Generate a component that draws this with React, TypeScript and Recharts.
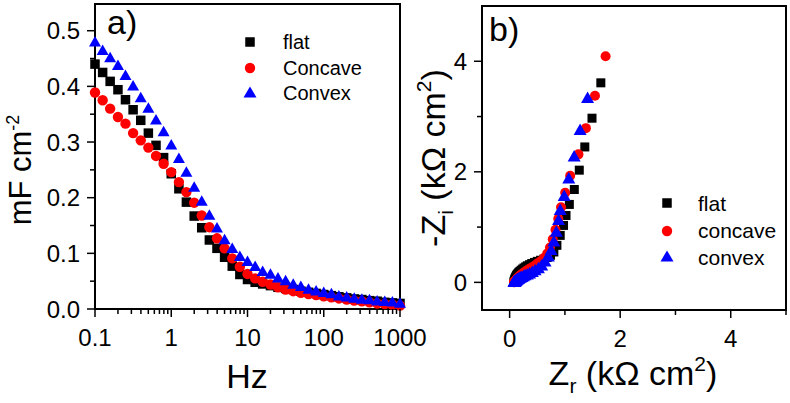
import React from "react";
import {
  ScatterChart,
  Scatter,
  XAxis,
  YAxis,
  ReferenceArea,
} from "recharts";

// panel a: capacitance vs frequency
const freqHz = [
  0.1, 0.126, 0.158, 0.2, 0.251, 0.316, 0.398, 0.501, 0.631, 0.794, 1, 1.26,
  1.58, 2, 2.51, 3.16, 3.98, 5.01, 6.31, 7.94, 10, 12.6, 15.8, 20, 25.1, 31.6,
  39.8, 50.1, 63.1, 79.4, 100, 126, 158, 200, 251, 316, 398, 501, 631, 794,
  1000,
];
const flatCap = [
  0.44, 0.425, 0.409, 0.394, 0.376, 0.358, 0.339, 0.316, 0.294, 0.272, 0.243,
  0.216, 0.192, 0.167, 0.146, 0.124, 0.109, 0.093, 0.077, 0.062, 0.053, 0.048,
  0.045, 0.042, 0.039, 0.037, 0.035, 0.032, 0.03, 0.028, 0.026, 0.024, 0.022,
  0.02, 0.018, 0.017, 0.015, 0.014, 0.012, 0.011, 0.01,
];
const concaveCap = [
  0.389, 0.375, 0.36, 0.345, 0.333, 0.316, 0.303, 0.29, 0.275, 0.261, 0.246,
  0.228, 0.21, 0.191, 0.168, 0.147, 0.127, 0.109, 0.091, 0.076, 0.063, 0.055,
  0.049, 0.044, 0.039, 0.035, 0.032, 0.029, 0.027, 0.025, 0.023, 0.021, 0.019,
  0.017, 0.015, 0.014, 0.012, 0.01, 0.009, 0.008, 0.006,
];
const convexCap = [
  0.479, 0.464, 0.451, 0.437, 0.419, 0.4, 0.379, 0.36, 0.339, 0.318, 0.294,
  0.27, 0.245, 0.218, 0.193, 0.168, 0.145, 0.124, 0.108, 0.094, 0.085, 0.076,
  0.067, 0.062, 0.055, 0.05, 0.044, 0.04, 0.035, 0.032, 0.029, 0.027, 0.023,
  0.021, 0.019, 0.017, 0.016, 0.014, 0.013, 0.012, 0.01,
];

// panel b: Nyquist, from 0.1 Hz (top) down to 1000 Hz (origin)
const flatZr = [
  1.65, 1.49, 1.36, 1.26, 1.17, 1.08, 1.02, 0.975, 0.915, 0.855, 0.8, 0.74,
  0.68, 0.62, 0.56, 0.5, 0.45, 0.4, 0.36, 0.32, 0.29, 0.26, 0.235, 0.21, 0.19,
  0.175, 0.16, 0.148, 0.137, 0.128, 0.12, 0.113, 0.107, 0.102, 0.097, 0.093,
  0.09, 0.087, 0.085, 0.083, 0.08,
];
const flatZi = [
  3.61, 2.97, 2.45, 2.03, 1.68, 1.41, 1.21, 1.03, 0.85, 0.67, 0.55, 0.49, 0.45,
  0.42, 0.4, 0.38, 0.36, 0.34, 0.32, 0.3, 0.28, 0.26, 0.24, 0.22, 0.2, 0.185,
  0.17, 0.155, 0.14, 0.125, 0.11, 0.095, 0.082, 0.07, 0.058, 0.047, 0.037,
  0.028, 0.02, 0.012, 0.005,
];
const concaveZr = [
  1.736, 1.544, 1.38, 1.245, 1.095, 1.005, 0.93, 0.88, 0.83, 0.78, 0.73, 0.68,
  0.62, 0.56, 0.5, 0.45, 0.4, 0.36, 0.32, 0.29, 0.26, 0.235, 0.21, 0.19, 0.175,
  0.16, 0.148, 0.137, 0.128, 0.12, 0.113, 0.107, 0.102, 0.097, 0.093, 0.09,
  0.087, 0.085, 0.083, 0.081, 0.08,
];
const concaveZi = [
  4.09, 3.375, 2.79, 2.316, 1.93, 1.62, 1.36, 1.15, 0.95, 0.78, 0.63, 0.52,
  0.44, 0.38, 0.34, 0.3, 0.27, 0.245, 0.22, 0.2, 0.18, 0.16, 0.14, 0.125, 0.11,
  0.095, 0.082, 0.07, 0.06, 0.05, 0.042, 0.035, 0.028, 0.022, 0.017, 0.013,
  0.01, 0.007, 0.005, 0.003, 0.001,
];
const convexZr = [
  1.41, 1.275, 1.167, 1.07, 0.987, 0.916, 0.885, 0.844, 0.8, 0.75, 0.7, 0.64,
  0.58, 0.52, 0.46, 0.41, 0.36, 0.32, 0.28, 0.25, 0.22, 0.2, 0.18, 0.165, 0.15,
  0.14, 0.13, 0.122, 0.115, 0.11, 0.105, 0.1, 0.097, 0.094, 0.091, 0.089,
  0.087, 0.085, 0.083, 0.082, 0.08,
];
const convexZi = [
  3.33, 2.75, 2.27, 1.87, 1.556, 1.3, 1.12, 0.91, 0.73, 0.58, 0.46, 0.37, 0.3,
  0.25, 0.21, 0.18, 0.155, 0.135, 0.12, 0.105, 0.092, 0.08, 0.07, 0.06, 0.052,
  0.045, 0.038, 0.032, 0.027, 0.022, 0.018, 0.015, 0.012, 0.01, 0.008, 0.006,
  0.005, 0.004, 0.003, 0.002, 0.001,
];

const xTicksA = [
  0.1, 0.2, 0.3, 0.4, 0.5, 0.6, 0.7, 0.8, 0.9, 1, 2, 3, 4, 5, 6, 7, 8, 9, 10,
  20, 30, 40, 50, 60, 70, 80, 90, 100, 200, 300, 400, 500, 600, 700, 800, 900,
  1000,
];
const xMajorA = [0.1, 1, 10, 100, 1000];
const yTicksA = [0, 0.05, 0.1, 0.15, 0.2, 0.25, 0.3, 0.35, 0.4, 0.45, 0.5];
const yMajorA = [0, 0.1, 0.2, 0.3, 0.4, 0.5];
const ticksB = [0, 1, 2, 3, 4, 5];
const majorB = [0, 2, 4];

const FONT = "'Liberation Sans', Arial, sans-serif";
const AXIS = { stroke: "#000", strokeWidth: 2 };

const capData = (vals: number[]) => freqHz.map((f, i) => ({ x: f, y: vals[i] }));
const nyqData = (zr: number[], zi: number[]) =>
  zr.map((r, i) => ({ x: r, y: zi[i] }));

const Square = ({ cx, cy, s = 9.5 }: any) => (
  <rect x={cx - s / 2} y={cy - s / 2} width={s} height={s} fill="#000" />
);
const Dot = ({ cx, cy, r = 5.2 }: any) => (
  <circle cx={cx} cy={cy} r={r} fill="#ff0000" />
);
const Tri = ({ cx, cy, w = 12, h = 10.5 }: any) => (
  <polygon
    points={`${cx},${cy - h * 0.6} ${cx - w / 2},${cy + h * 0.4} ${cx + w / 2},${cy + h * 0.4}`}
    fill="#0000ff"
  />
);

const XTick = ({ x, y, payload, majors }: any) => {
  const v = payload.value;
  const major = majors.some((m: number) => Math.abs(m - v) < 1e-9);
  return (
    <g>
      <line x1={x} x2={x} y1={y} y2={y + (major ? 8 : 5)} stroke="#000" strokeWidth={1.5} />
      {major && (
        <text x={x} y={y + 37} textAnchor="middle" fontSize={24} fontFamily={FONT} fill="#000">
          {String(v)}
        </text>
      )}
    </g>
  );
};

const YTick = ({ x, y, payload, majors, fmt }: any) => {
  const v = payload.value;
  const major = majors.some((m: number) => Math.abs(m - v) < 1e-9);
  return (
    <g>
      <line x1={x} x2={x - (major ? 8 : 5)} y1={y} y2={y} stroke="#000" strokeWidth={1.5} />
      {major && (
        <text x={x - 15} y={y + 8.5} textAnchor="end" fontSize={24} fontFamily={FONT} fill="#000">
          {fmt(v)}
        </text>
      )}
    </g>
  );
};

const LegendMark = ({ x, y, marker }: any) => (
  <g>
    {marker === "square" && <Square cx={x} cy={y} />}
    {marker === "circle" && <Dot cx={x} cy={y} />}
    {marker === "tri" && <Tri cx={x} cy={y} w={13} h={11} />}
  </g>
);

const PanelA = () => (
  <ScatterChart width={440} height={403} margin={{ top: 4, right: 40, left: 35, bottom: 44 }}>
    <ReferenceArea x1={0.1} x2={1000} y1={0} y2={0.548} fill="none" fillOpacity={0} stroke="#000" strokeWidth={2} />
    <XAxis
      type="number"
      dataKey="x"
      scale="log"
      domain={[0.1, 1000]}
      ticks={xTicksA}
      interval={0}
      height={50}
      axisLine={AXIS}
      tickLine={false}
      tickSize={0}
      tickMargin={0}
      tick={<XTick majors={xMajorA} />}
    />
    <YAxis
      type="number"
      dataKey="y"
      domain={[0, 0.548]}
      ticks={yTicksA}
      interval={0}
      width={60}
      axisLine={AXIS}
      tickLine={false}
      tickSize={0}
      tickMargin={0}
      tick={<YTick majors={yMajorA} fmt={(v: number) => v.toFixed(1)} />}
    />
    <Scatter name="flat" data={capData(flatCap)} shape={<Square />} isAnimationActive={false} />
    <Scatter name="Concave" data={capData(concaveCap)} shape={<Dot />} isAnimationActive={false} />
    <Scatter name="Convex" data={capData(convexCap)} shape={<Tri />} isAnimationActive={false} />
  </ScatterChart>
);

const PanelB = () => (
  <ScatterChart width={390} height={403} margin={{ top: 6, right: 4, left: 42, bottom: 43 }}>
    <ReferenceArea x1={-0.5} x2={5} y1={-0.5} y2={5} fill="none" fillOpacity={0} stroke="#000" strokeWidth={2} />
    <XAxis
      type="number"
      dataKey="x"
      domain={[-0.5, 5]}
      ticks={ticksB}
      interval={0}
      height={50}
      axisLine={AXIS}
      tickLine={false}
      tickSize={0}
      tickMargin={0}
      tick={<XTick majors={majorB} />}
    />
    <YAxis
      type="number"
      dataKey="y"
      domain={[-0.5, 5]}
      ticks={ticksB.slice(0, 5)}
      interval={0}
      width={40}
      axisLine={AXIS}
      tickLine={false}
      tickSize={0}
      tickMargin={0}
      tick={<YTick majors={majorB} fmt={(v: number) => String(v)} />}
    />
    <Scatter name="flat" data={nyqData(flatZr, flatZi)} shape={<Square s={9} />} isAnimationActive={false} />
    <Scatter name="concave" data={nyqData(concaveZr, concaveZi)} shape={<Dot r={5} />} isAnimationActive={false} />
    <Scatter name="convex" data={nyqData(convexZr, convexZi)} shape={<Tri w={13} h={11.5} />} isAnimationActive={false} />
  </ScatterChart>
);

const Overlay = () => (
  <svg
    width={790}
    height={403}
    style={{ position: "absolute", left: 0, top: 0, pointerEvents: "none" }}
    fontFamily={FONT}
    fill="#000"
  >
    <text x={107} y={34} fontSize={34}>a)</text>
    <text x={489} y={41} fontSize={34}>b)</text>

    <text x={247} y={388} fontSize={34} textAnchor="middle">Hz</text>
    <text x={633} y={385} fontSize={34} textAnchor="middle">
      Z<tspan fontSize={21} dy={8}>r</tspan>
      <tspan dy={-8}> (kΩ cm</tspan>
      <tspan fontSize={21} dy={-14}>2</tspan>
      <tspan dy={14}>)</tspan>
    </text>

    <text transform="translate(31,170) rotate(-90)" fontSize={31} textAnchor="middle">
      mF cm<tspan fontSize={18} dy={-12}>-2</tspan>
    </text>
    <text transform="translate(445,158) rotate(-90)" fontSize={34} textAnchor="middle">
      -Z<tspan fontSize={21} dy={8}>i</tspan>
      <tspan dy={-8}> (kΩ cm</tspan>
      <tspan fontSize={21} dy={-14}>2</tspan>
      <tspan dy={14}>)</tspan>
    </text>

    <LegendMark x={250} y={42} marker="square" />
    <LegendMark x={250} y={68} marker="circle" />
    <LegendMark x={250} y={93} marker="tri" />
    <text x={283} y={49} fontSize={20}>flat</text>
    <text x={283} y={75} fontSize={20}>Concave</text>
    <text x={283} y={100} fontSize={20}>Convex</text>

    <LegendMark x={667} y={203} marker="square" />
    <LegendMark x={667} y={231} marker="circle" />
    <LegendMark x={667} y={257} marker="tri" />
    <text x={698} y={211} fontSize={21}>flat</text>
    <text x={698} y={238} fontSize={21}>concave</text>
    <text x={698} y={265} fontSize={21}>convex</text>
  </svg>
);

export default function App() {
  return (
    <div style={{ position: "absolute", left: 0, top: 0, width: 790, height: 403, background: "#fff" }}>
      <div style={{ position: "absolute", left: 0, top: 0 }}>
        <PanelA />
      </div>
      <div style={{ position: "absolute", left: 400, top: 0 }}>
        <PanelB />
      </div>
      <Overlay />
    </div>
  );
}
